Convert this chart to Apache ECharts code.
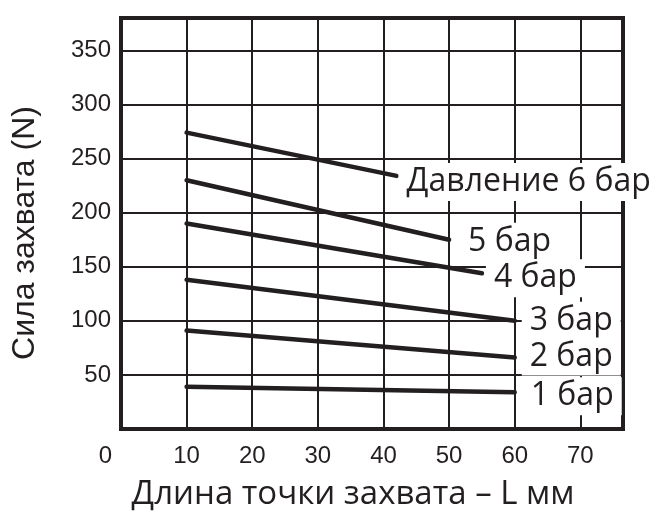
<!DOCTYPE html>
<html>
<head>
<meta charset="utf-8">
<script src="https://cdn.jsdelivr.net/npm/echarts@6/dist/echarts.min.js"></script>
<style>
html,body{margin:0;padding:0;background:#fff;}
#chart{width:662px;height:522px;}
</style>
</head>
<body>
<div id="chart"></div>
<script>
// Data
var seriesNames = ['Давление 6 бар', '5 бар', '4 бар', '3 бар', '2 бар', '1 бар'];
var x6 = [10, 42];  var y6 = [274, 234];
var x5 = [10, 50];  var y5 = [230, 175];
var x4 = [10, 55];  var y4 = [190, 144];
var x3 = [10, 60];  var y3 = [138, 100];
var x2 = [10, 60];  var y2 = [91, 66];
var x1 = [10, 60];  var y1 = [39, 34];
var xTicks = [0, 10, 20, 30, 40, 50, 60, 70];
var yTicks = [50, 100, 150, 200, 250, 300, 350];
var xTitle = 'Длина точки захвата – L мм';
var yTitle = 'Сила захвата (N)';

var ink = '#231f20';
var xsAll = [x6, x5, x4, x3, x2, x1];
var ysAll = [y6, y5, y4, y3, y2, y1];
// label offsets (visual placement only)
var labelOffsets = [[2, 6], [11, 2], [4, 5], [7, 0], [7, -1], [8, 4]];

var series = seriesNames.map(function (name, k) {
  var xs = xsAll[k], ys = ysAll[k];
  return {
    name: name,
    type: 'line',
    showSymbol: false,
    symbol: 'none',
    silent: true,
    z: 3 + k,
    lineStyle: { color: ink, width: 4.5, cap: 'round' },
    data: xs.map(function (x, i) { return [x, ys[i]]; }),
    endLabel: {
      show: true,
      formatter: name,
      distance: 0,
      offset: labelOffsets[k],
      fontFamily: 'Open Sans',
      fontSize: 32,
      color: ink,
      backgroundColor: '#fff',
      padding: [3, 8, 3, 8]
    }
  };
});

var chart = echarts.init(document.getElementById('chart'), null, { renderer: 'canvas' });
chart.setOption({
  animation: false,
  backgroundColor: '#fff',
  grid: {
    left: 121, right: 39, top: 18, bottom: 93,
    show: true, borderColor: ink, borderWidth: 4, backgroundColor: 'transparent'
  },
  xAxis: {
    type: 'value',
    min: 0, max: 76.5, interval: 10,
    name: xTitle,
    nameLocation: 'middle',
    nameGap: 49,
    nameTextStyle: { fontFamily: 'Open Sans', fontSize: 33, color: ink, padding: [0, 38, 0, 0] },
    axisLine: { show: true, lineStyle: { color: ink, width: 4 } },
    axisTick: { show: false },
    splitLine: { show: true, lineStyle: { color: ink, width: 2 } },
    axisLabel: {
      margin: 15,
      fontFamily: 'Liberation Sans',
      fontSize: 24,
      color: ink,
      formatter: function (v) {
        if (xTicks.indexOf(v) < 0) return '';
        if (v === 0) return '{o|0}';
        return String(v);
      },
      rich: { o: { fontFamily: 'Liberation Sans', fontSize: 24, color: ink, padding: [0, 31, 0, 0] } }
    }
  },
  yAxis: {
    type: 'value',
    min: 0, max: 380, interval: 50,
    name: yTitle,
    nameLocation: 'middle',
    nameGap: 80,
    nameTextStyle: { fontFamily: 'Liberation Sans', fontSize: 32, color: ink, padding: [0, 19, 0, 0] },
    axisLine: { show: true, lineStyle: { color: ink, width: 4 } },
    axisTick: { show: false },
    splitLine: { show: true, lineStyle: { color: ink, width: 2 } },
    axisLabel: {
      margin: 10,
      fontFamily: 'Liberation Sans',
      fontSize: 24,
      color: ink,
      formatter: function (v) { return yTicks.indexOf(v) >= 0 ? String(v) : ''; }
    }
  },
  series: series
});
</script>
</body>
</html>
